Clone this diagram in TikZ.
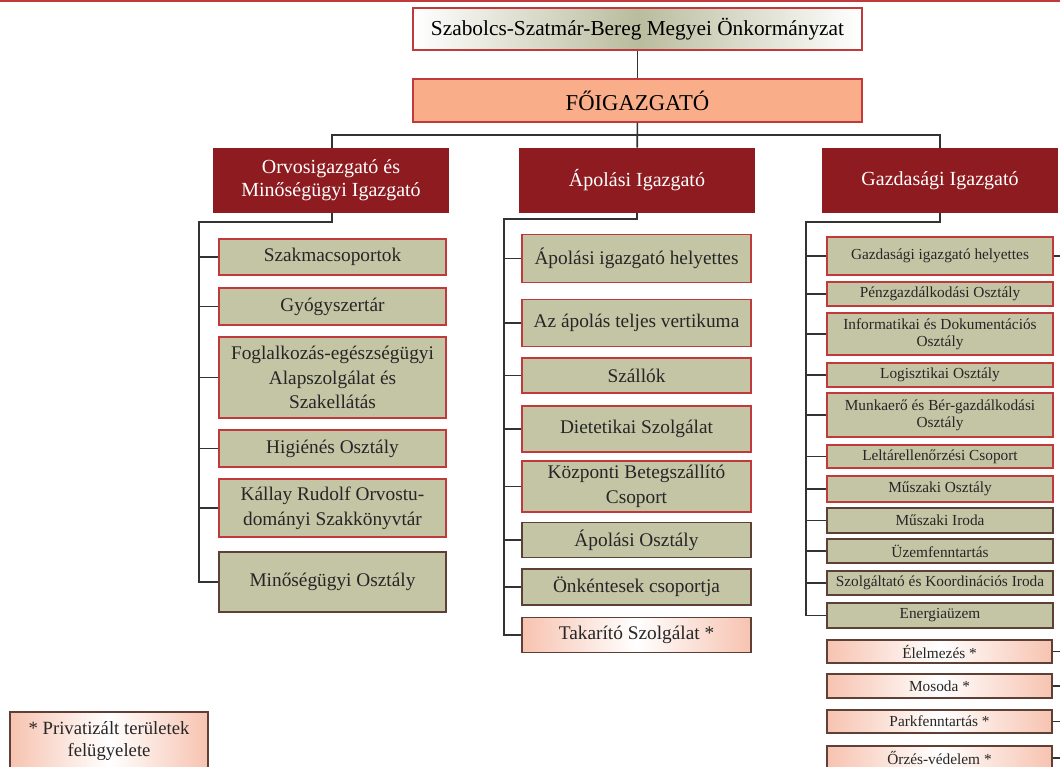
\documentclass[tikz,border=0pt]{standalone}
\usepackage{fontspec}
\setmainfont{Liberation Serif}
\usetikzlibrary{positioning}

\definecolor{igred}{HTML}{8E1B1F}
\definecolor{keretred}{HTML}{C0393B}
\definecolor{oliva}{HTML}{C4C5A5}
\definecolor{lazac}{HTML}{F9AD89}
\definecolor{rozsa}{HTML}{F7C3B0}
\definecolor{barna}{HTML}{5E4036}
\definecolor{vonal}{HTML}{333333}
\definecolor{szurke}{HTML}{BABC9E}

\begin{document}
\begin{tikzpicture}[x=0.75pt,y=-0.75pt,
    conn/.style={draw=vonal,line width=1.2pt},
    igazg/.style={fill=igred,text=white,minimum width=177pt,minimum height=48.75pt,
        align=center,font=\fontsize{15}{17.5}\selectfont},
    egyseg/.style={draw=keretred,line width=1.1pt,fill=oliva,text=black!85,
        minimum width=170.25pt,inner xsep=2pt,align=center,
        font=\fontsize{14.5}{18.5}\selectfont},
    kis/.style={egyseg,minimum width=169.5pt,inner ysep=1pt,
        font=\fontsize{11.5}{13}\selectfont},
    sotet/.style={draw=barna},
    privat/.style={draw=barna,line width=1.1pt,left color=rozsa,right color=rozsa,
        middle color=white,text=black!85,align=center}]
    \useasboundingbox (0,0) rectangle (1060,767);
    \clip (0,0) rectangle (1060,767);
    \draw[keretred,line width=1.2pt] (0,1) -- (1060,1);

    % felső szint
    \node[draw=keretred,line width=1.1pt,left color=white,right color=white,middle color=szurke,
        minimum width=336.75pt,minimum height=31.5pt,font=\fontsize{16}{19}\selectfont]
        (onk) at (637.5,29) {Szabolcs-Szatmár-Bereg Megyei Önkormányzat};
    \node[draw=keretred,line width=1.1pt,fill=lazac,minimum width=336.75pt,minimum height=32.25pt,
        font=\fontsize{17}{20}\selectfont] (foig) at (637.5,100.5) {FŐIGAZGATÓ};

    % igazgatók
    \node[igazg] (orvos) at (331,180.5) {Orvosigazgató és\\Minőségügyi Igazgató};
    \node[igazg] (apol) at (637,180.5) {Ápolási Igazgató};
    \node[igazg] (gazd) at (940,180.5) {Gazdasági Igazgató};

    % orvosigazgató alá
    \node[egyseg,minimum height=27pt] (szakma) at (332.5,257) {Szakmacsoportok};
    \node[egyseg,minimum height=27.75pt] (gyogy) at (332.5,306.5) {Gyógyszertár};
    \node[egyseg,minimum height=60.75pt] (foglalk) at (332.5,377.5) {Foglalkozás-egészségügyi\\Alapszolgálat és\\Szakellátás};
    \node[egyseg,minimum height=27.75pt] (higien) at (332.5,448.5) {Higiénés Osztály};
    \node[egyseg,minimum height=43.5pt] (kallay) at (332.5,508) {Kállay Rudolf Orvostu-\\dományi Szakkönyvtár};
    \node[egyseg,sotet,minimum height=45pt] (minoseg) at (332.5,582) {Minőségügyi Osztály};

    % ápolási igazgató alá
    \node[egyseg,minimum width=171.75pt,minimum height=36pt] (aphely) at (636.5,258.5) {Ápolási igazgató helyettes};
    \node[egyseg,minimum width=171.75pt,minimum height=35.25pt] (vertik) at (636.5,323) {Az ápolás teljes vertikuma};
    \node[egyseg,minimum width=171.75pt,minimum height=26.25pt] (szallok) at (636.5,375.5) {Szállók};
    \node[egyseg,minimum width=171.75pt,minimum height=34.5pt] (dietet) at (636.5,429) {Dietetikai Szolgálat};
    \node[egyseg,minimum width=171.75pt,minimum height=35.25pt] (kozp) at (636.5,486.5) {Központi Betegszállító\\Csoport};
    \node[egyseg,sotet,minimum width=171.75pt,minimum height=26.25pt] (aposzt) at (636.5,540) {Ápolási Osztály};
    \node[egyseg,sotet,minimum width=171.75pt,minimum height=27pt] (onkent) at (636.5,587) {Önkéntesek csoportja};
    \node[privat,minimum width=171.75pt,minimum height=26.25pt,font=\fontsize{14.5}{18.5}\selectfont]
        (takar) at (636.5,635) {Takarító Szolgálat *};

    % gazdasági igazgató alá
    \node[kis,minimum height=28.5pt] (gh) at (940,256) {Gazdasági igazgató helyettes};
    \node[kis,minimum height=18pt] (penz) at (940,294) {Pénzgazdálkodási Osztály};
    \node[kis,minimum height=31.5pt] (info) at (940,334) {Informatikai és Dokumentációs\\Osztály};
    \node[kis,minimum height=18pt] (logiszt) at (940,375) {Logisztikai Osztály};
    \node[kis,minimum height=33pt] (munka) at (940,415) {Munkaerő és Bér-gazdálkodási\\Osztály};
    \node[kis,minimum height=17.25pt] (leltar) at (940,456.5) {Leltárellenőrzési Csoport};
    \node[kis,minimum height=19.5pt] (muszo) at (940,489) {Műszaki Osztály};
    \node[kis,sotet,minimum height=18.75pt] (muszi) at (940,520.5) {Műszaki Iroda};
    \node[kis,sotet,minimum height=18pt] (uzem) at (940,551) {Üzemfenntartás};
    \node[kis,sotet,minimum height=18pt] (szolg) at (940,583) {Szolgáltató és Koordinációs Iroda};
    \node[kis,sotet,minimum height=18.75pt] (energ) at (940,615.5) {Energiaüzem};

    \node[privat,minimum width=168.75pt,minimum height=17.25pt,inner ysep=1pt,font=\fontsize{11.5}{13}\selectfont]
        (elelm) at (939.5,651.5) {Élelmezés *};
    \node[privat,minimum width=168.75pt,minimum height=18pt,inner ysep=1pt,font=\fontsize{11.5}{13}\selectfont]
        (mosoda) at (939.5,686) {Mosoda *};
    \node[privat,minimum width=168.75pt,minimum height=17.25pt,inner ysep=1pt,font=\fontsize{11.5}{13}\selectfont]
        (park) at (939.5,721.5) {Parkfenntartás *};
    \node[privat,minimum width=168.75pt,minimum height=18pt,inner ysep=1pt,font=\fontsize{11.5}{13}\selectfont]
        (orzes) at (939.5,758) {Őrzés-védelem *};

    % jelmagyarázat
    \node[privat,minimum width=148.5pt,minimum height=43.5pt,font=\fontsize{14}{17}\selectfont]
        (jelm) at (109,741) {* Privatizált területek\\felügyelete};

    % összekötők
    \coordinate (busz) at (0,135);
    \coordinate (bgerinc) at (199,222);
    \coordinate (kgerinc) at (504,219);
    \coordinate (jgerinc) at (806,222);
    \coordinate (jszel) at (1062,0);
    \draw[conn] (onk) -- (foig);
    \draw[conn] (foig) -- (apol);
    \draw[conn] (orvos.north -| 332,0) -- (busz -| 332,0) -| (gazd.north);
    \draw[conn] (orvos.south -| 332,0) |- (bgerinc) |- (minoseg.west);
    \draw[conn] (apol.south) |- (kgerinc) |- (takar.west);
    \draw[conn] (gazd.south) |- (jgerinc) |- (energ.west);
    \foreach \n in {szakma,gyogy,foglalk,higien,kallay}
        \draw[conn] (\n.west) -- (bgerinc |- \n.west);
    \foreach \n in {aphely,vertik,szallok,dietet,kozp,aposzt,onkent}
        \draw[conn] (\n.west) -- (kgerinc |- \n.west);
    \foreach \n in {gh,penz,info,logiszt,munka,leltar,muszo,muszi,uzem,szolg}
        \draw[conn] (\n.west) -- (jgerinc |- \n.west);
    \foreach \n in {gh,elelm,mosoda,park,orzes}
        \draw[conn] (\n.east) -- (jszel |- \n.east);
\end{tikzpicture}
\end{document}
